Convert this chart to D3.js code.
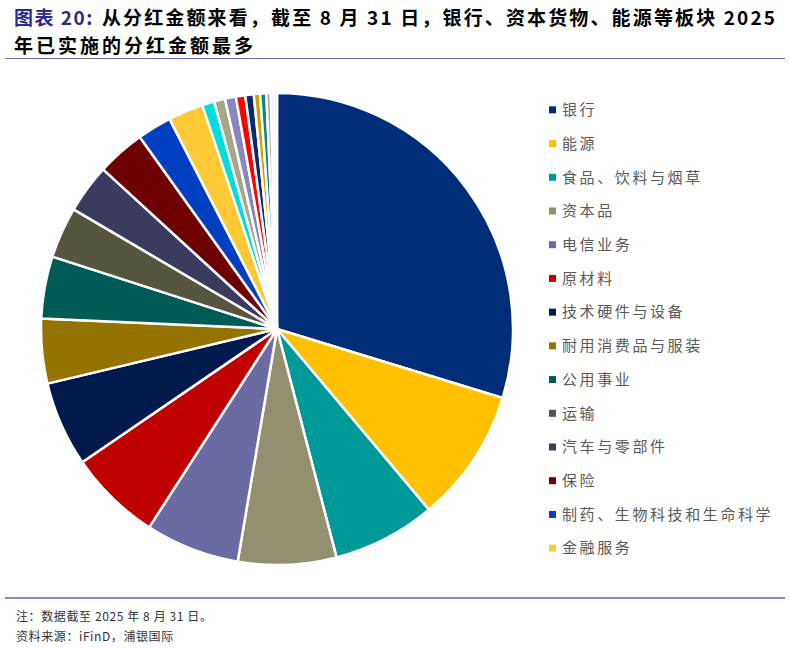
<!DOCTYPE html>
<html lang="zh">
<head>
  <meta charset="UTF-8" />
  <title>分红金额板块分布</title>
  <script src="https://d3js.org/d3.v7.min.js"></script>
  <style>
    body {
      margin: 0;
      background: #fff;
      font-family: 'Noto Sans CJK SC', 'Noto Sans', sans-serif;
    }
    .title {
      font-size: 19px;
      font-weight: bold;
    }
    .legend-label {
      fill: #595959;
      font-size: 15px;
      letter-spacing: 2.6px;
    }
    .note {
      fill: #333;
      font-size: 12px;
      letter-spacing: 0.6px;
    }
  </style>
</head>
<body>
<script>
  // sectors, in the order they are drawn (clockwise from 12 o'clock)
  const sectors = [
    "银行", "能源", "食品、饮料与烟草", "资本品", "电信业务", "原材料",
    "技术硬件与设备", "耐用消费品与服装", "公用事业", "运输", "汽车与零部件",
    "保险", "制药、生物科技和生命科学", "金融服务",
    "房地产", "零售业", "媒体与娱乐", "软件与服务", "商业和专业服务",
    "消费者服务", "家庭与个人用品", "半导体产品与设备", "医疗保健设备与服务", "食品与主要用品零售"
  ];
  // share of dividend amount (%)
  const shares = [
    29.7, 9.14, 7.06, 6.72, 6.44, 6.33,
    5.83, 4.42, 4.25, 3.5, 3.35,
    3.3, 2.35, 2.4,
    0.83, 0.75, 0.75, 0.64, 0.58,
    0.43, 0.42, 0.3, 0.2, 0.22
  ];
  const colors = [
    "#002D78", "#FFC000", "#009999", "#939070", "#6B6BA3", "#C00000",
    "#001A4D", "#957300", "#005B57", "#555540", "#3B3B5F",
    "#6E0000", "#0040C0", "#FFC835",
    "#00DDDD", "#A6A68A", "#8888C0", "#FF0000", "#0A2A6B",
    "#D4A000", "#108878", "#A8A898", "#C4C4DE", "#D8E4E4"
  ];
  const legendCount = 14;

  const width = 790, height = 649;
  const data = sectors.map((s, i) => ({ sector: s, share: shares[i], color: colors[i] }));

  const svg = d3.select("body").append("svg")
    .attr("width", width)
    .attr("height", height);

  // title: blue label, then the rest spaced out to the right edge
  const head = svg.append("text")
    .attr("class", "title")
    .attr("x", 14).attr("y", 25)
    .attr("fill", "#2B2B8C")
    .attr("letter-spacing", 1.5)
    .text("图表 20:");
  const restX = 14 + head.node().getComputedTextLength() + 8;
  const restText = "从分红金额来看，截至 8 月 31 日，银行、资本货物、能源等板块 2025";
  const rest = svg.append("text")
    .attr("class", "title")
    .attr("x", restX).attr("y", 25)
    .attr("fill", "#000")
    .text(restText);
  const natural = rest.node().getComputedTextLength();
  rest.attr("letter-spacing", Math.max(0, (775 - restX - natural) / (restText.length - 1)));

  svg.append("text")
    .attr("class", "title")
    .attr("x", 14).attr("y", 53)
    .attr("letter-spacing", 3)
    .text("年已实施的分红金额最多");

  svg.append("line")
    .attr("x1", 5).attr("x2", 785).attr("y1", 58.5).attr("y2", 58.5)
    .attr("stroke", "#6E6EA8").attr("stroke-width", 1);

  // pie
  const pie = d3.pie().sort(null).value(d => d.share);
  const arc = d3.arc().innerRadius(0).outerRadius(236);

  const g = svg.append("g").attr("transform", "translate(277,329)");
  g.selectAll("path")
    .data(pie(data))
    .join("path")
    .attr("d", arc)
    .attr("fill", d => d.data.color)
    .attr("stroke", "#fff")
    .attr("stroke-width", 2.5)
    .attr("stroke-linejoin", "round");

  // legend
  const y = d3.scaleBand()
    .domain(sectors.slice(0, legendCount))
    .range([93, 565]);

  const legend = svg.append("g");
  const rows = legend.selectAll("g")
    .data(data.slice(0, legendCount))
    .join("g")
    .attr("transform", d => `translate(549,${y(d.sector) + y.bandwidth() / 2})`);

  rows.append("rect")
    .attr("x", 0).attr("y", -3.5)
    .attr("width", 7).attr("height", 7)
    .attr("fill", d => d.color);

  rows.append("text")
    .attr("class", "legend-label")
    .attr("x", 13).attr("dy", "0.35em")
    .text(d => d.sector);

  // footer
  svg.append("line")
    .attr("x1", 5).attr("x2", 785).attr("y1", 598).attr("y2", 598)
    .attr("stroke", "#7F8FC0").attr("stroke-width", 2);

  svg.append("text")
    .attr("class", "note")
    .attr("x", 16).attr("y", 621)
    .text("注：数据截至 2025 年 8 月 31 日。");
  svg.append("text")
    .attr("class", "note")
    .attr("x", 16).attr("y", 641)
    .text("资料来源：iFinD，浦银国际");
</script>
</body>
</html>
